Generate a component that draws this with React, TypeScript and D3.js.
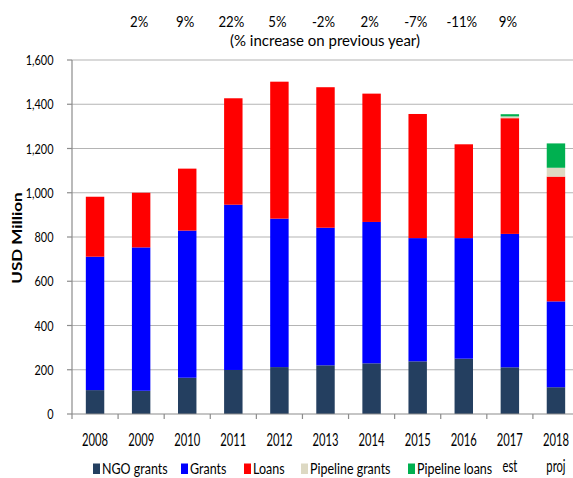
import React from "react";
import * as d3 from "d3";

const categories = ["2008", "2009", "2010", "2011", "2012", "2013", "2014", "2015", "2016", "2017\nest", "2018\nproj"];
const ngoGrants = [108, 105, 164, 199, 212, 220, 229, 238, 250, 211, 121];
const grants = [603, 648, 665, 747, 671, 622, 639, 557, 545, 603, 388];
const loans = [271, 247, 280, 481, 619, 635, 580, 561, 424, 523, 564];
const pipelineGrants = [0, 0, 0, 0, 0, 0, 0, 0, 0, 8, 40];
const pipelineLoans = [0, 0, 0, 0, 0, 0, 0, 0, 0, 10, 110];
const seriesNames = ["NGO grants", "Grants", "Loans", "Pipeline grants", "Pipeline loans"];
const seriesColors = ["#243F60", "#0000FF", "#FF0000", "#DDD9C3", "#00B050"];
// % change labels shown above 2009 .. 2017
const pctLabels = ["2%", "9%", "22%", "5%", "-2%", "2%", "-7%", "-11%", "9%"];
const yTicks = [0, 200, 400, 600, 800, 1000, 1200, 1400, 1600];

const FONT = "Lato, 'Open Sans', sans-serif";

function Txt(props: {
  x: number; y: number; size: number; sx?: number; anchor?: string; weight?: string | number; children: React.ReactNode;
}) {
  const { x, y, size, sx = 1, anchor = "start", weight = "normal", children } = props;
  return (
    <text
      transform={`translate(${x},${y}) scale(${sx},1)`}
      textAnchor={anchor}
      fontSize={size}
      fontWeight={weight}
      fontFamily={FONT}
      fill="#000"
    >
      {children}
    </text>
  );
}

export default function App() {
  const W = 573, H = 478;
  const left = 72, right = 579, top = 60, bottom = 414;
  const x = d3.scaleBand<string>().domain(categories).range([left, right]).paddingInner(0.6).paddingOuter(0.3);
  const y = d3.scaleLinear().domain([0, 1600]).range([bottom, top]);
  const cx = (c: string) => x(c)! + x.bandwidth() / 2;

  const rows = categories.map((c, i) => ({
    cat: c,
    s0: ngoGrants[i], s1: grants[i], s2: loans[i], s3: pipelineGrants[i], s4: pipelineLoans[i],
  }));
  const stacked = d3.stack<any>().keys(["s0", "s1", "s2", "s3", "s4"])(rows);
  const step = x.step();
  const fmt = d3.format(",");

  const legendX = [93, 181, 244, 301, 408];

  return (
    <svg width={W} height={H} style={{ position: "absolute", left: 0, top: 0, background: "#fff" }}>
      {/* gridlines */}
      {yTicks.slice(1).map((t) => (
        <line key={t} x1={left} x2={W} y1={y(t)} y2={y(t)} stroke="#B4B4B4" strokeWidth={1.2} />
      ))}
      {/* bars */}
      {stacked.map((layer, li) => (
        <g key={li} fill={seriesColors[li]}>
          {layer.map((d, i) =>
            d[1] - d[0] > 0 ? (
              <rect key={i} x={x(categories[i])!} width={x.bandwidth()} y={y(d[1])} height={y(d[0]) - y(d[1])} />
            ) : null
          )}
        </g>
      ))}
      {/* axes */}
      <line x1={left} x2={left} y1={top} y2={bottom} stroke="#8C8C8C" strokeWidth={1.2} />
      <line x1={left} x2={W} y1={bottom} y2={bottom} stroke="#8C8C8C" strokeWidth={1.2} />
      {yTicks.map((t) => (
        <g key={t}>
          <line x1={left - 5} x2={left} y1={y(t)} y2={y(t)} stroke="#8C8C8C" strokeWidth={1.2} />
          <Txt x={53.5} y={y(t) + 5} size={14} sx={0.78} anchor="end">{fmt(t)}</Txt>
        </g>
      ))}
      {d3.range(categories.length + 1).map((i) => (
        <line key={i} x1={left + i * step} x2={left + i * step} y1={bottom} y2={bottom + 5} stroke="#8C8C8C" strokeWidth={1.2} />
      ))}
      {categories.map((c) =>
        c.split("\n").map((l, k) => (
          <Txt key={c + k} x={cx(c)} y={446 + k * 26} size={16.5} sx={0.68} anchor="middle">{l}</Txt>
        ))
      )}
      {/* y title */}
      <text
        transform={`translate(21.5,238) scale(0.72,1) rotate(-90)`}
        textAnchor="middle"
        fontSize={17}
        fontWeight="bold"
        fontFamily={FONT}
        fill="#000"
      >
        USD Million
      </text>
      {/* percent labels */}
      {pctLabels.map((p, i) => (
        <Txt key={i} x={cx(categories[i + 1]) - 2} y={27} size={15} sx={0.88} anchor="middle">{p}</Txt>
      ))}
      <Txt x={325} y={46} size={15} sx={1} anchor="middle">(% increase on previous year)</Txt>
      {/* legend */}
      {seriesNames.map((n, i) => (
        <g key={n}>
          <rect x={legendX[i]} y={463.5} width={7} height={10.5} fill={seriesColors[i]} />
          <Txt x={legendX[i] + 9} y={474} size={14.5} sx={0.86}>{n}</Txt>
        </g>
      ))}
    </svg>
  );
}
